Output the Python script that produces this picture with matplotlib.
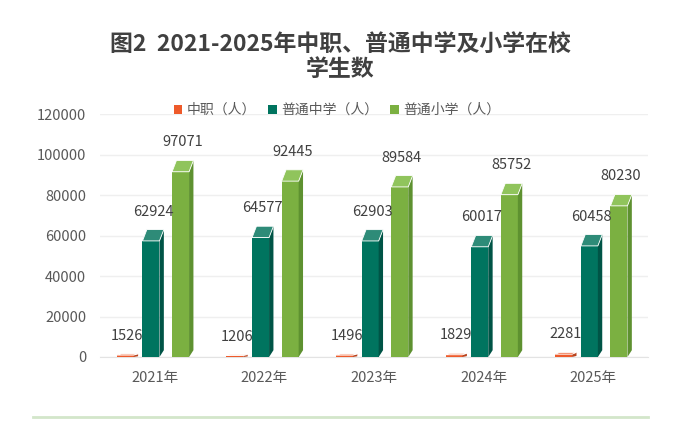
import matplotlib
matplotlib.use("Agg")
import matplotlib.pyplot as plt
from matplotlib.patches import Polygon, Patch
from matplotlib.lines import Line2D
import numpy as np

plt.rcParams['font.family'] = ['Noto Sans CJK SC', 'DejaVu Sans']

years = ['2021年', '2022年', '2023年', '2024年', '2025年']
series_names = ['中职（人）', '普通中学（人）', '普通小学（人）']
zhongzhi = [1526, 1206, 1496, 1829, 2281]
putong_zhongxue = [62924, 64577, 62903, 60017, 60458]
putong_xiaoxue = [97071, 92445, 89584, 85752, 80230]
yticks = [0, 20000, 40000, 60000, 80000, 100000, 120000]
title = '图2  2021-2025年中职、普通中学及小学在校\n学生数'

front_colors = ['#EE5A2A', '#00745F', '#7BB041']
top_colors = ['#F27B55', '#2E8B78', '#90C45C']
side_colors = ['#B8431D', '#005446', '#5E9130']

fig = plt.figure(figsize=(6.8, 4.41), dpi=100)
ax = fig.add_axes([100/680, 1-357/441, 548/680, 243/441])

x = np.arange(len(years))
offsets = [-0.27, -0.035, 0.235]
w = 0.155
dx = 0.04
depth = 5600

for si, vals in enumerate([zhongzhi, putong_zhongxue, putong_xiaoxue]):
    for xi, v in zip(x, vals):
        d = min(depth, 0.4 * v)
        cx = xi + offsets[si]
        xl, xr = cx - w/2, cx + w/2
        hf = v - d
        ax.bar(cx, hf, width=w, color=front_colors[si], zorder=3, linewidth=0)
        side = Polygon([(xr, 0), (xr+dx, d*0.6), (xr+dx, v), (xr, hf)],
                       closed=True, facecolor=side_colors[si], edgecolor='none', zorder=3)
        top = Polygon([(xl, hf), (xl+dx, v), (xr+dx, v), (xr, hf)],
                      closed=True, facecolor=top_colors[si], edgecolor='white',
                      linewidth=0.6, zorder=4)
        ax.add_patch(side)
        ax.add_patch(top)
        ax.annotate(f'{v}', (cx + dx/2, v), xytext=(0, 13), textcoords='offset points',
                    ha='center', va='center', fontsize=10.5, color='#404040', zorder=6)

ax.set_xlim(-0.5, 4.5)
ax.set_ylim(0, 120000)
ax.set_yticks(yticks)
ax.set_yticklabels([str(t) for t in yticks])
ax.set_xticks(x)
ax.set_xticklabels(years)
ax.tick_params(axis='both', length=0, labelsize=10.5, colors='#595959')
ax.tick_params(axis='y', pad=10)
ax.tick_params(axis='x', pad=10)
ax.yaxis.grid(True, color='#EFEFEF', linewidth=1)
ax.set_axisbelow(True)
for s in ['top', 'right', 'left']:
    ax.spines[s].set_visible(False)
ax.spines['bottom'].set_color('#E3E3E3')

handles = [Patch(facecolor=c, edgecolor='none') for c in front_colors]
leg = fig.legend(handles, series_names, loc='center', bbox_to_anchor=(337/680, 1-110/441),
                 ncol=3, frameon=False, fontsize=10, handlelength=0.6, handleheight=0.6,
                 handletextpad=0.3, columnspacing=0.9, labelcolor='#595959')

fig.text(0.5, 1-57/441, title, ha='center', va='center', fontsize=16.5, fontweight='bold',
         color='#404040', linespacing=1.15)

fig.add_artist(Line2D([33/680, 648/680], [1-417/441, 1-417/441], transform=fig.transFigure,
                      color='#D3E6CA', linewidth=2))

fig.savefig('out.png', dpi=100, facecolor='white')
